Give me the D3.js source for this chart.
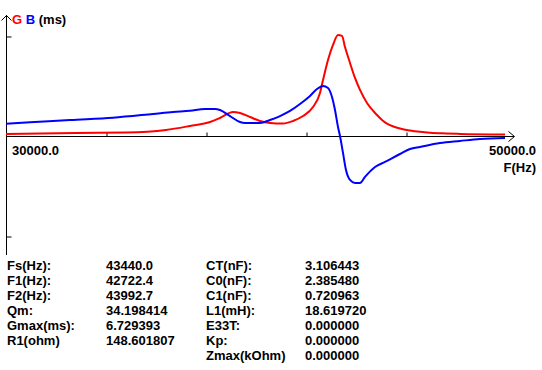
<!DOCTYPE html>
<html><head><meta charset="utf-8">
<script src="https://cdn.jsdelivr.net/npm/d3@7"></script>
<style>
html,body{margin:0;padding:0;background:#fff;}
svg{display:block;}
text{font-family:"Liberation Sans",Arial,sans-serif;font-weight:bold;font-size:13px;}
</style></head><body>
<svg id="c" width="542" height="370"></svg>
<script>
// Frequency (Hz) samples and conductance G / susceptance B (ms)
const freqG = [30000,32800,34800,36400,37360,38160,38560,39080,39360,39760,40160,40560,41080,41480,41880,42280,42560,42680,42880,43080,43280,43440,43560,43760,43960,44160,44440,44840,45040,45240,45500,45760,46160,46560,46960,47600,48160,49960];
const valG  = [0.13,0.20,0.23,0.40,0.67,0.93,1.20,1.60,1.53,1.27,1.00,0.87,0.83,1.00,1.33,1.93,2.87,3.73,5.07,6.07,6.73,6.67,5.93,4.87,3.87,3.07,2.20,1.40,1.07,0.82,0.63,0.50,0.37,0.28,0.22,0.17,0.14,0.10];
const freqB = [30000,30960,32560,34280,35880,36680,37360,37960,38360,38560,38960,39360,39560,40160,40560,40960,41360,41760,42160,42440,42680,42880,43040,43160,43280,43360,43480,43600,43760,43960,44160,44360,44760,45160,45760,46160,46560,47360,48160,48960,49960];
const valB  = [0.82,0.91,1.07,1.22,1.47,1.60,1.69,1.80,1.80,1.73,1.33,0.93,0.87,0.87,1.07,1.33,1.67,2.13,2.67,3.13,3.33,3.20,2.60,1.73,0.60,0,-1.13,-2.27,-2.93,-3.13,-3.13,-2.73,-2.07,-1.73,-1.20,-0.87,-0.73,-0.47,-0.33,-0.20,-0.13];
const xTicks = [34000,38000,42000,46000];
const yTicks = [6.667,-6.667];
const xMinLabel = "30000.0", xMaxLabel = "50000.0", xTitle = "F(Hz)";
const paramLabels1 = ["Fs(Hz):","F1(Hz):","F2(Hz):","Qm:","Gmax(ms):","R1(ohm)"];
const paramValues1 = ["43440.0","42722.4","43992.7","34.198414","6.729393","148.601807"];
const paramLabels2 = ["CT(nF):","C0(nF):","C1(nF):","L1(mH):","E33T:","Kp:","Zmax(kOhm)"];
const paramValues2 = ["3.106443","2.385480","0.720963","18.619720","0.000000","0.000000","0.000000"];

const svg = d3.select("#c");
const x = d3.scaleLinear().domain([30000,50000]).range([6,506]);
const y = d3.scaleLinear().domain([-8,8]).range([256,16]);
const y0 = y(0);

// axes
svg.append("line").attr("x1",6.5).attr("x2",6.5).attr("y1",15).attr("y2",255).attr("stroke","#000");
svg.append("path").attr("d","M1.5,20.5L6.5,15.5L11.5,20.5").attr("fill","none").attr("stroke","#000");
svg.append("line").attr("x1",6).attr("x2",514).attr("y1",y0+0.5).attr("y2",y0+0.5).attr("stroke","#000");
svg.append("path").attr("d",`M508.5,${y0-4.5}L514.5,${y0+0.5}L508.5,${y0+5.5}`).attr("fill","none").attr("stroke","#000");

const xa = svg.append("g").attr("transform",`translate(0.5,${y0+0.5})`)
  .call(d3.axisBottom(x).tickValues(xTicks).tickSize(-4).tickFormat(""));
xa.select(".domain").remove();
xa.selectAll("line").attr("stroke","#000");

const ya = svg.append("g").attr("transform","translate(6.5,0.5)")
  .call(d3.axisRight(y).tickValues(yTicks).tickSize(5).tickFormat(""));
ya.select(".domain").remove();
ya.selectAll("line").attr("stroke","#000");

// curves
const line = d3.line().x(d=>x(d[0])).y(d=>y(d[1])).curve(d3.curveMonotoneX);
svg.append("path").datum(freqG.map((f,i)=>[f,valG[i]])).attr("d",line)
  .attr("fill","none").attr("stroke","#ff0000").attr("stroke-width",2);
svg.append("path").datum(freqB.map((f,i)=>[f,valB[i]])).attr("d",line)
  .attr("fill","none").attr("stroke","#0000ff").attr("stroke-width",2);

// title
const t = svg.append("text").attr("x",12).attr("y",24);
t.append("tspan").attr("fill","#ff0000").text("G");
t.append("tspan").attr("fill","#0000ff").text(" B");
t.append("tspan").attr("fill","#000").text(" (ms)");

// axis labels
svg.append("text").attr("x",12).attr("y",155).text(xMinLabel);
svg.append("text").attr("x",536).attr("y",155).attr("text-anchor","end").text(xMaxLabel);
svg.append("text").attr("x",536).attr("y",172).attr("text-anchor","end").text(xTitle);

// parameter table
const rowY = i => 270 + i*15;
paramLabels1.forEach((s,i)=>svg.append("text").attr("x",7).attr("y",rowY(i)).text(s));
paramValues1.forEach((s,i)=>svg.append("text").attr("x",106).attr("y",rowY(i)).text(s));
paramLabels2.forEach((s,i)=>svg.append("text").attr("x",206).attr("y",rowY(i)).text(s));
paramValues2.forEach((s,i)=>svg.append("text").attr("x",305).attr("y",rowY(i)).text(s));
</script>
</body></html>
